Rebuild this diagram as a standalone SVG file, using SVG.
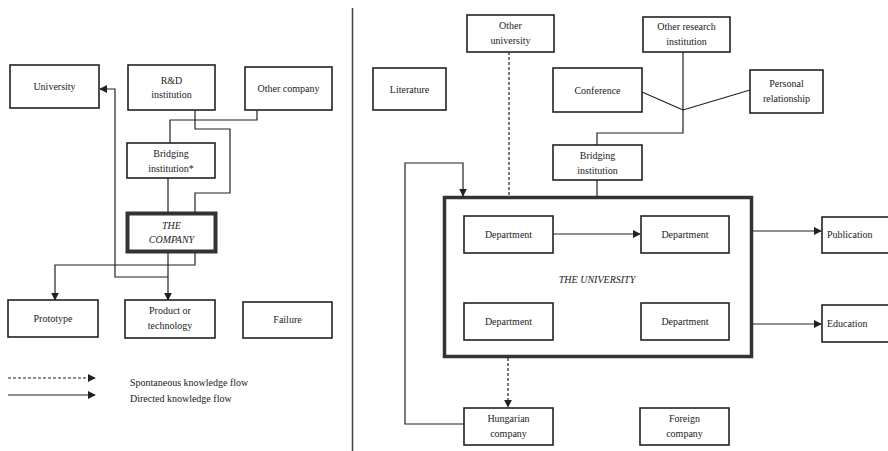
<svg xmlns="http://www.w3.org/2000/svg" width="888" height="451" viewBox="0 0 888 451">
<style>
.b{fill:#fff;stroke:#222;stroke-width:1.6}
.t{font-family:"Liberation Serif","Times New Roman",serif;font-size:10px;fill:#222;text-anchor:middle}
.i{font-style:italic}
.c{fill:none;stroke:#222;stroke-width:1.2}
.d{stroke-dasharray:3,2}
</style>
<defs>
<marker id="a" viewBox="0 0 10 10" refX="9" refY="5" markerWidth="8" markerHeight="8" markerUnits="userSpaceOnUse" orient="auto"><path d="M0,0L10,5L0,10z" fill="#222"/></marker>
</defs>
<rect width="888" height="451" fill="#fff"/>
<line x1="352.5" y1="8" x2="352.5" y2="451" stroke="#444" stroke-width="1.5"/>
<g id="the-university"><rect x="444.5" y="197.5" width="307" height="159" fill="none" stroke="#333" stroke-width="3.5"/><text class="t i" x="597" y="283">THE UNIVERSITY</text></g>
<g id="connectors">
<polyline class="c" points="257,110 257,120 170,120 170,143"/>
<polyline class="c" points="195,110 195,129 230,129 230,193 195,193 195,212"/>
<line class="c" x1="168" y1="178" x2="168" y2="212"/>
<line class="c" x1="168" y1="253" x2="168" y2="300" marker-end="url(#a)"/>
<polyline class="c" points="195,253 195,265 55,265 55,300" marker-end="url(#a)"/>
<polyline class="c" points="168,277 115,277 115,89 100,89" marker-end="url(#a)"/>
<line class="c d" x1="8" y1="378" x2="95" y2="378" marker-end="url(#a)"/>
<line class="c" x1="8" y1="395" x2="95" y2="395" marker-end="url(#a)"/>
<line class="c d" x1="509" y1="52" x2="509" y2="196"/>
<line class="c" x1="642" y1="92" x2="683" y2="110"/>
<line class="c" x1="750" y1="90" x2="683" y2="110"/>
<polyline class="c" points="683,52 683,133 597,133 597,145"/>
<line class="c" x1="597" y1="180" x2="597" y2="196"/>
<polyline class="c" points="464,424 405,424 405,163 463,163 463,196" marker-end="url(#a)"/>
<line class="c d" x1="508" y1="358" x2="508" y2="407" marker-end="url(#a)"/>
<line class="c" x1="553" y1="234" x2="640" y2="234" marker-end="url(#a)"/>
<line class="c" x1="753" y1="231" x2="821" y2="231" marker-end="url(#a)"/>
<line class="c" x1="753" y1="324" x2="821" y2="324" marker-end="url(#a)"/>
</g>
<g id="legend">
<text class="t" x="130" y="386" style="text-anchor:start">Spontaneous knowledge flow</text>
<text class="t" x="130" y="402" style="text-anchor:start">Directed knowledge flow</text>
</g>
<g id="university-left"><rect class="b" x="10" y="65" width="89" height="43"/><text class="t" x="54.5" y="90">University</text></g>
<g id="rd-institution"><rect class="b" x="128" y="65" width="87" height="45"/><text class="t" x="171.5" y="84">R&amp;D</text><text class="t" x="171.5" y="98">institution</text></g>
<g id="other-company"><rect class="b" x="245" y="67" width="87" height="43"/><text class="t" x="288.5" y="92">Other company</text></g>
<g id="bridging-left"><rect class="b" x="127" y="143" width="88" height="35"/><text class="t" x="171" y="157">Bridging</text><text class="t" x="171" y="172">institution*</text></g>
<g id="the-company"><rect x="127.5" y="213.5" width="88" height="38" fill="#fff" stroke="#333" stroke-width="4"/><text class="t i" x="171.5" y="229">THE</text><text class="t i" x="171.5" y="243">COMPANY</text></g>
<g id="prototype"><rect class="b" x="8" y="300" width="90" height="37"/><text class="t" x="53" y="322">Prototype</text></g>
<g id="product"><rect class="b" x="125" y="300" width="90" height="38"/><text class="t" x="170" y="314">Product or</text><text class="t" x="170" y="329">technology</text></g>
<g id="failure"><rect class="b" x="243" y="302" width="89" height="36"/><text class="t" x="287.5" y="323">Failure</text></g>
<g id="other-university"><rect class="b" x="467" y="15" width="87" height="37"/><text class="t" x="510.5" y="29">Other</text><text class="t" x="510.5" y="44">university</text></g>
<g id="other-research"><rect class="b" x="643" y="17" width="87" height="35"/><text class="t" x="686.5" y="30">Other research</text><text class="t" x="686.5" y="45">institution</text></g>
<g id="literature"><rect class="b" x="373" y="68" width="73" height="42"/><text class="t" x="409.5" y="93">Literature</text></g>
<g id="conference"><rect class="b" x="553" y="68" width="89" height="44"/><text class="t" x="597.5" y="94">Conference</text></g>
<g id="personal-relationship"><rect class="b" x="750" y="70" width="73" height="43"/><text class="t" x="786.5" y="87">Personal</text><text class="t" x="786.5" y="102">relationship</text></g>
<g id="bridging-right"><rect class="b" x="553" y="145" width="89" height="35"/><text class="t" x="597.5" y="159">Bridging</text><text class="t" x="597.5" y="174">institution</text></g>
<g id="dept-1"><rect class="b" x="464" y="216" width="89" height="37"/><text class="t" x="508.5" y="238">Department</text></g>
<g id="dept-2"><rect class="b" x="641" y="216" width="88" height="37"/><text class="t" x="685" y="238">Department</text></g>
<g id="dept-3"><rect class="b" x="464" y="303" width="89" height="37"/><text class="t" x="508.5" y="325">Department</text></g>
<g id="dept-4"><rect class="b" x="641" y="303" width="88" height="37"/><text class="t" x="685" y="325">Department</text></g>
<g id="publication"><rect class="b" x="822" y="217" width="80" height="36"/><text class="t" x="827" y="238" style="text-anchor:start">Publication</text></g>
<g id="education"><rect class="b" x="822" y="305" width="80" height="37"/><text class="t" x="827" y="327" style="text-anchor:start">Education</text></g>
<g id="hungarian-company"><rect class="b" x="464" y="408" width="89" height="37"/><text class="t" x="508.5" y="422">Hungarian</text><text class="t" x="508.5" y="437">company</text></g>
<g id="foreign-company"><rect class="b" x="640" y="408" width="89" height="37"/><text class="t" x="684.5" y="422">Foreign</text><text class="t" x="684.5" y="437">company</text></g>
</svg>
